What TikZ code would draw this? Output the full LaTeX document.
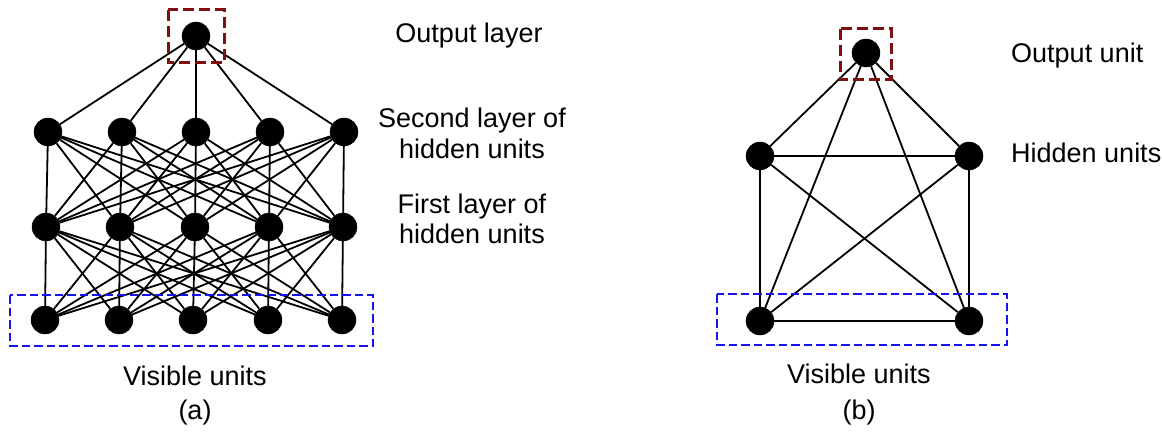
\documentclass[tikz,border=0pt]{standalone}
\usepackage{fontspec}
\setmainfont{Liberation Sans}
\definecolor{boxred}{RGB}{128,16,16}
\definecolor{boxblue}{RGB}{20,20,240}
\begin{document}
\begin{tikzpicture}[x=1pt,y=-1pt,
  unit/.style={circle,fill=black,draw=black,inner sep=0pt,minimum size=28pt},
  link/.style={line width=1.8pt,black},
  outbox/.style={draw=boxred,line width=3pt,dash pattern=on 11pt off 5pt},
  visbox/.style={draw=boxblue,line width=2.6pt,dash pattern=on 8.5pt off 4pt},
  lbl/.style={font=\fontsize{27}{31}\selectfont,anchor=base,inner sep=0pt,align=center}]
\useasboundingbox (0,0) rectangle (1162,433);
% ---------- (a)
\node[unit] (o) at (196,36) {};
\foreach \i/\x in {1/48,2/122,3/196,4/270,5/344} \node[unit] (s\i) at (\x,132) {};
\foreach \i/\x in {1/46,2/120,3/195,4/269,5/343} \node[unit] (f\i) at (\x,227) {};
\foreach \i/\x in {1/45,2/119,3/193,4/268,5/342} \node[unit] (v\i) at (\x,320) {};
\foreach \i in {1,...,5} \draw[link] (o) -- (s\i);
\foreach \i in {1,...,5} \foreach \j in {1,...,5} {
  \draw[link] (s\i) -- (f\j);
  \draw[link] (f\i) -- (v\j);
}
\draw[outbox] (168,10) rectangle (224,63);
\draw[visbox] (10,295) rectangle (373,346);
\node[lbl] (tout) at (469,43) {Output layer};
\node[lbl] (tsec1) at (472,128) {Second layer of};
\node[lbl] (tsec2) at (472,158) {hidden units};
\node[lbl] (tfir1) at (472,213) {First layer of};
\node[lbl] (tfir2) at (472,243) {hidden units};
\node[lbl] (tvisa) at (195,385) {Visible units};
\node[lbl] (ta) at (195,419) {(a)};
% ---------- (b)
\node[unit] (bo) at (866,53) {};
\node[unit] (bh1) at (760,156) {};
\node[unit] (bh2) at (969,156) {};
\node[unit] (bv1) at (760,321) {};
\node[unit] (bv2) at (969,321) {};
\foreach \a/\b in {bo/bh1,bo/bh2,bo/bv1,bo/bv2,bh1/bh2,bh1/bv1,bh1/bv2,bh2/bv1,bh2/bv2,bv1/bv2}
  \draw[link] (\a) -- (\b);
\draw[outbox] (840,29) rectangle (891,80);
\draw[visbox] (717,294) rectangle (1007,345);
\node[lbl,anchor=base west] (tbout) at (1011,63) {Output unit};
\node[lbl,anchor=base west] (tbhid) at (1011,163) {Hidden units};
\node[lbl] (tvisb) at (859,383) {Visible units};
\node[lbl] (tb) at (859,419) {(b)};
\end{tikzpicture}
\end{document}
